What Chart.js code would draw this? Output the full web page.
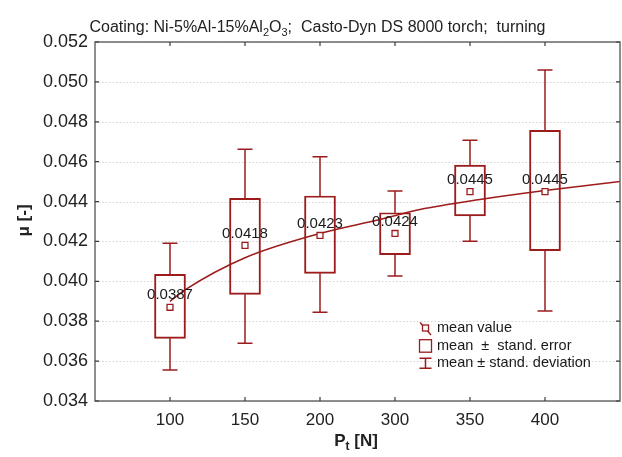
<!DOCTYPE html>
<html><head><meta charset="utf-8">
<script src="https://cdn.jsdelivr.net/npm/chart.js@4.4.1/dist/chart.umd.min.js"></script>
<style>html,body{margin:0;padding:0;background:#fff;}canvas{display:block;}</style>
</head><body>
<canvas id="c" width="622" height="457"></canvas>
<script>
// ---- data ----
const categories = ['100','150','200','300','350','400'];
const means  = [0.0387, 0.0418, 0.0423, 0.0424, 0.0445, 0.0445];
const seLow  = [0.03714, 0.03935, 0.04040, 0.04134, 0.04328, 0.04154];
const seHigh = [0.04035, 0.04416, 0.04428, 0.04344, 0.04583, 0.04757];
const sdLow  = [0.03555, 0.03689, 0.03845, 0.04027, 0.04201, 0.03851];
const sdHigh = [0.04191, 0.04662, 0.04625, 0.04453, 0.04707, 0.05060];
// fitted curve, read at positions along the category axis (0 = "100")
const fitX = [0, 0.2, 1, 2, 2.8, 3.333, 4.133, 5, 6];
const fitY = [0.0390, 0.03957, 0.04118, 0.0424, 0.0431, 0.0436, 0.0441, 0.04455, 0.0450];
const yTicks = [0.034, 0.036, 0.038, 0.040, 0.042, 0.044, 0.046, 0.048, 0.050, 0.052];
const legendLabels = ['mean value', 'mean  \u00b1  stand. error', 'mean \u00b1 stand. deviation'];

const FONT = "'Liberation Sans', Arial, sans-serif";
const RED = '#9c1c1c';
const TXT = '#1a1a1a';
Chart.defaults.font.family = FONT;

const decor = {
  id: 'decor',
  beforeDatasetsDraw(chart) {
    const {ctx, chartArea: a, scales: {x, y}} = chart;
    ctx.save();
    // dotted horizontal grid
    ctx.strokeStyle = '#d2d2d2'; ctx.lineWidth = 1; ctx.setLineDash([1.5, 2]);
    yTicks.forEach(v => {
      const py = Math.round(y.getPixelForValue(v)) + 0.5;
      ctx.beginPath(); ctx.moveTo(a.left, py); ctx.lineTo(a.right, py); ctx.stroke();
    });
    ctx.setLineDash([]);
    // whiskers (mean ± SD)
    ctx.strokeStyle = RED; ctx.lineWidth = 1.5;
    categories.forEach((c, i) => {
      const px = x.getPixelForValue(i);
      const segs = [[seHigh[i], sdHigh[i]], [seLow[i], sdLow[i]]];
      segs.forEach(([a0, a1]) => {
        const y0 = y.getPixelForValue(a0), y1 = y.getPixelForValue(a1);
        ctx.beginPath(); ctx.moveTo(px, y0); ctx.lineTo(px, y1);
        ctx.moveTo(px - 7.5, y1); ctx.lineTo(px + 7.5, y1); ctx.stroke();
      });
    });
    ctx.restore();
  },
  afterDatasetsDraw(chart) {
    const {ctx, chartArea: a, scales: {x, y}} = chart;
    ctx.save();
    // mean labels
    ctx.fillStyle = TXT; ctx.font = '15px ' + FONT;
    ctx.textAlign = 'center'; ctx.textBaseline = 'middle';
    means.forEach((m, i) => {
      ctx.fillText(m.toFixed(4), x.getPixelForValue(i), y.getPixelForValue(m) - 12);
    });
    // frame
    ctx.strokeStyle = '#6a6a6a'; ctx.lineWidth = 1.5;
    ctx.strokeRect(a.left, a.top, a.right - a.left, a.bottom - a.top);
    // inward tick marks
    ctx.lineWidth = 1.2; ctx.strokeStyle = '#3a3a3a';
    yTicks.forEach(v => {
      const py = y.getPixelForValue(v);
      ctx.beginPath(); ctx.moveTo(a.left, py); ctx.lineTo(a.left + 4, py);
      ctx.moveTo(a.right, py); ctx.lineTo(a.right - 4, py); ctx.stroke();
    });
    categories.forEach((c, i) => {
      const px = x.getPixelForValue(i);
      ctx.beginPath(); ctx.moveTo(px, a.bottom); ctx.lineTo(px, a.bottom - 4);
      ctx.moveTo(px, a.top); ctx.lineTo(px, a.top + 4); ctx.stroke();
    });
    // legend
    const lx = a.left + 330, ly = [a.top + 286, a.top + 303.7, a.top + 321.3];
    ctx.strokeStyle = RED; ctx.lineWidth = 1.3;
    ctx.beginPath(); ctx.moveTo(lx - 5, ly[0] - 5.5); ctx.lineTo(lx + 6, ly[0] + 7); ctx.stroke();
    ctx.fillStyle = '#fff';
    ctx.fillRect(lx - 2.5, ly[0] - 3, 6, 6); ctx.strokeRect(lx - 2.5, ly[0] - 3, 6, 6);
    ctx.strokeRect(lx - 5.5, ly[1] - 6, 12, 12.5);
    ctx.lineWidth = 1.5;
    ctx.beginPath();
    ctx.moveTo(lx - 5.5, ly[2] - 5); ctx.lineTo(lx + 6.5, ly[2] - 5);
    ctx.moveTo(lx + 0.5, ly[2] - 5); ctx.lineTo(lx + 0.5, ly[2] + 5);
    ctx.moveTo(lx - 5.5, ly[2] + 5); ctx.lineTo(lx + 6.5, ly[2] + 5);
    ctx.stroke();
    ctx.fillStyle = TXT; ctx.font = '14.5px ' + FONT; ctx.textAlign = 'left'; ctx.textBaseline = 'middle';
    legendLabels.forEach((t, k) => ctx.fillText(t, lx + 12, ly[k]));
    // title with subscripts
    const parts = [['Coating: Ni-5%Al-15%Al', 0], ['2', 1], ['O', 0], ['3', 1], [';  Casto-Dyn DS 8000 torch;  turning', 0]];
    const fMain = '16px ' + FONT, fSub = '11px ' + FONT;
    let w = 0;
    parts.forEach(([t, s]) => { ctx.font = s ? fSub : fMain; w += ctx.measureText(t).width; });
    let tx = 317.5 - w / 2;
    ctx.textBaseline = 'alphabetic'; ctx.fillStyle = '#222';
    parts.forEach(([t, s]) => {
      ctx.font = s ? fSub : fMain;
      ctx.fillText(t, tx, s ? 36 : 32);
      tx += ctx.measureText(t).width;
    });
    // x axis title  P_t [N]
    const cx = (a.left + a.right) / 2;
    const bMain = 'bold 17px ' + FONT, bSub = 'bold 12px ' + FONT;
    const xp = [['P', 0], ['t', 1], [' [N]', 0]];
    w = 0;
    xp.forEach(([t, s]) => { ctx.font = s ? bSub : bMain; w += ctx.measureText(t).width; });
    tx = cx - 1.5 - w / 2;
    xp.forEach(([t, s]) => {
      ctx.font = s ? bSub : bMain;
      ctx.fillText(t, tx, s ? 450 : 446);
      tx += ctx.measureText(t).width;
    });
    // y axis title
    ctx.translate(24, (a.top + a.bottom) / 2 - 1);
    ctx.rotate(-Math.PI / 2);
    ctx.font = bMain; ctx.textAlign = 'center'; ctx.textBaseline = 'middle';
    ctx.fillText('\u03bc [-]', 0, 0);
    ctx.restore();
  }
};

new Chart(document.getElementById('c'), {
  data: {
    datasets: [
      { type: 'bar', label: 'se',
        data: categories.map((c, i) => ({x: i, y: [seLow[i], seHigh[i]]})),
        backgroundColor: 'rgba(255,255,255,0)', borderColor: RED, borderWidth: 1.3,
        borderSkipped: false, barThickness: 31, order: 3 },
      { type: 'line', label: 'fit',
        data: fitX.map((v, i) => ({x: v, y: fitY[i]})),
        borderColor: RED, borderWidth: 1.5, pointRadius: 0, cubicInterpolationMode: 'monotone',
        fill: false, order: 2 },
      { type: 'scatter', label: 'mean',
        data: means.map((m, i) => ({x: i, y: m})),
        pointStyle: 'rect', pointRadius: 4.2, backgroundColor: '#fff', borderColor: RED,
        borderWidth: 1.3, order: 1 }
    ]
  },
  options: {
    responsive: false, animation: false, devicePixelRatio: 1, events: [],
    layout: {autoPadding: false, padding: {left: 0, right: 2, top: 42, bottom: 0}},
    plugins: {legend: {display: false}, tooltip: {enabled: false}, title: {display: false}},
    scales: {
      x: { type: 'linear', min: -1, max: 6, offset: false,
        afterBuildTicks: s => { s.ticks = categories.map((c, i) => ({value: i})); },
        ticks: { callback: v => categories[v] ?? '', font: {size: 17}, color: '#222', padding: 9,
                 maxRotation: 0, autoSkip: false },
        grid: {display: false, drawTicks: false, offset: false}, border: {display: false},
        afterFit: s => { s.height = 56; s.paddingLeft = 0; s.paddingRight = 0; } },
      y: { type: 'linear', min: 0.034, max: 0.052,
        afterBuildTicks: s => { s.ticks = yTicks.map(v => ({value: v})); },
        ticks: { callback: v => v.toFixed(3), font: {size: 18}, color: '#222', padding: 7 },
        grid: {display: false, drawTicks: false}, border: {display: false},
        afterFit: s => { s.width = 95; } }
    }
  },
  plugins: [decor]
});
</script>
</body></html>
